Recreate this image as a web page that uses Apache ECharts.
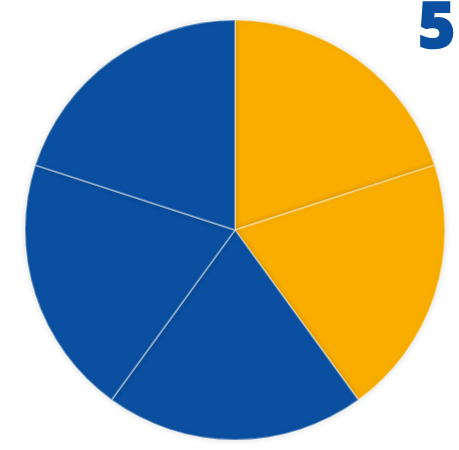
<!DOCTYPE html>
<html><head><meta charset="utf-8">
<script src="https://cdn.jsdelivr.net/npm/echarts@6/dist/echarts.min.js"></script>
<style>html,body{margin:0;padding:0;background:#fff}#c{width:459px;height:450px}</style>
</head><body><div id="c"></div>
<script>
var categories = ['A','B','C','D','E'];
var values = [20,20,20,20,20];
var colors = ['#F8AD00','#F8AD00','#0B50A0','#0B50A0','#0B50A0'];
var titleText = '5';
var chart = echarts.init(document.getElementById('c'));
chart.setOption({
  animation:false,
  title:{text:titleText,right:-3,top:-7,textStyle:{fontFamily:'Open Sans',fontWeight:800,fontSize:64,color:'#0B50A0',textBorderColor:'#0B50A0',textBorderWidth:1.5}},
  series:[{
    type:'pie',
    center:[235,230],
    radius:[0,210],
    startAngle:90,
    clockwise:true,
    label:{show:false},
    labelLine:{show:false},
    itemStyle:{borderColor:'rgba(255,255,255,0.35)',borderWidth:2,shadowBlur:6,shadowColor:'rgba(0,0,0,0.15)'},
    data:categories.map(function(c,i){return {name:c,value:values[i],itemStyle:{color:colors[i]}};})
  }]
});
</script></body></html>
